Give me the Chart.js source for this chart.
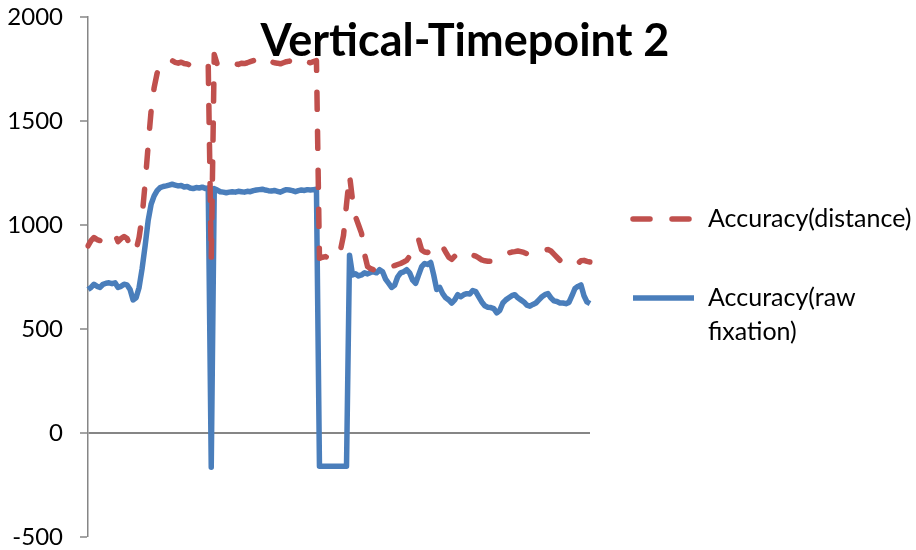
<!DOCTYPE html>
<html><head><meta charset="utf-8">
<script src="https://cdn.jsdelivr.net/npm/chart.js@4.4.0/dist/chart.umd.min.js"></script>
<style>html,body{margin:0;padding:0;background:#fff;} #wrap{width:916px;height:550px;position:relative;}</style>
</head><body><div id="wrap"><canvas id="c" width="916" height="550"></canvas></div>
<script>
const chartTitle = 'Vertical-Timepoint 2';
const seriesNames = ['Accuracy(distance)', 'Accuracy(raw fixation)'];
const legendLines = [['Accuracy(distance)'], ['Accuracy(raw', 'fixation)']];
const yMin = -500, yMax = 2000, yStep = 500;

const distance = [
  900, 925, 940, 930, 925, 935, 945, 955, 960, 955,
  920, 935, 945, 935, 900, 870, 880, 940, 1040, 1200,
  1380, 1550, 1660, 1730, 1770, 1778, 1782, 1788, 1790, 1782,
  1778, 1783, 1776, 1774, 1768, 1762, 1765, 1760, 1765, 1770,
  1768, 835, 1820, 1772, 1765, 1768, 1770, 1766, 1770, 1775,
  1772, 1778, 1776, 1780, 1785, 1790, 1795, 1805, 1810, 1800,
  1792, 1785, 1780, 1778, 1775, 1780, 1785, 1788, 1782, 1778,
  1785, 1795, 1790, 1783, 1780, 1785, 1790, 840, 845, 848,
  842, 840, 843, 845, 880, 950, 1100, 1240, 1120, 1040,
  1000, 960, 860, 800, 790, 785, 790, 788, 795, 790,
  795, 800, 805, 810, 815, 822, 830, 850, 880, 920,
  930, 880, 870, 868, 880, 895, 905, 910, 895, 870,
  845, 835, 850, 865, 872, 870, 862, 858, 855, 850,
  842, 832, 828, 826, 826, 830, 838, 845, 852, 860,
  866, 870, 872, 875, 872, 868, 862, 858, 856, 860,
  866, 872, 878, 882, 875, 860, 845, 830, 818, 810,
  806, 805, 808, 815, 828, 830, 825, 822
];
const rawFixation = [
  690, 700, 715, 705, 700, 715, 720, 722, 718, 722,
  700, 705, 715, 712, 690, 640, 650, 700, 790, 900,
  1020, 1100, 1140, 1165, 1180, 1185, 1188, 1192, 1196, 1192,
  1188, 1190, 1183, 1185, 1178, 1175, 1180, 1178, 1182, 1176,
  1178, -165, 1175, 1168, 1160, 1158, 1155, 1158, 1160, 1158,
  1162, 1160, 1158, 1162, 1160, 1165, 1168, 1170, 1172, 1168,
  1165, 1163, 1166, 1162, 1158, 1165, 1170, 1168, 1165, 1160,
  1165, 1168, 1166, 1170, 1168, 1170, 1172, -160, -160, -160,
  -160, -160, -160, -160, -160, -160, -160, 855, 760, 765,
  755, 760, 770, 765, 772, 775, 770, 785, 775, 740,
  720, 700, 710, 750, 770, 775, 785, 770, 735, 720,
  760, 800, 815, 810, 820, 760, 690, 700, 670, 650,
  640, 625, 640, 665, 655, 665, 670, 668, 685, 680,
  655, 630, 612, 605, 603, 598, 578, 590, 625, 640,
  650, 660, 665, 650, 640, 630, 615, 610, 618, 625,
  640, 655, 665, 670, 650, 635, 632, 625, 625, 622,
  628, 660, 695, 705, 712, 660, 630, 622
];
const samples = distance.map((_, i) => i + 1);

const RED = '#C0504D';
const BLUE = '#4A7EBB';
const AXIS = '#868686';
const FONT = 'Lato';
const DASH = [17, 22];

const overlay = {
  id: 'overlay',
  afterDraw(chart) {
    const ctx = chart.ctx;
    ctx.save();
    ctx.fillStyle = '#000';
    ctx.font = 'bold 45px ' + FONT;
    ctx.textAlign = 'center';
    ctx.textBaseline = 'alphabetic';
    ctx.fillText(chartTitle, 465, 56);

    const rows = [
      {color: RED, dash: DASH, y: 219, lines: legendLines[0]},
      {color: BLUE, dash: [], y: 298, lines: legendLines[1]}
    ];
    ctx.font = '25px ' + FONT;
    ctx.textAlign = 'left';
    ctx.textBaseline = 'middle';
    rows.forEach(r => {
      ctx.beginPath();
      ctx.strokeStyle = r.color;
      ctx.lineWidth = 5.5;
      ctx.lineCap = r.dash.length ? 'round' : 'butt';
      ctx.setLineDash(r.dash);
      ctx.moveTo(633, r.y);
      ctx.lineTo(694, r.y);
      ctx.stroke();
      ctx.setLineDash([]);
      r.lines.forEach((t, k) => ctx.fillText(t, 708, r.y + k * 34));
    });
    ctx.restore();
  }
};

new Chart(document.getElementById('c'), {
  type: 'line',
  data: {
    labels: samples,
    datasets: [
      {label: seriesNames[0], data: distance, borderColor: RED, borderWidth: 5.5,
       borderDash: DASH, borderCapStyle: 'round', borderJoinStyle: 'round',
       pointRadius: 0, tension: 0, fill: false},
      {label: seriesNames[1], data: rawFixation, borderColor: BLUE, borderWidth: 5.5,
       borderJoinStyle: 'round', pointRadius: 0, tension: 0, fill: false}
    ]
  },
  options: {
    responsive: false,
    animation: false,
    layout: {padding: {left: 0, right: 326, top: 17, bottom: 13}},
    plugins: {legend: {display: false}, title: {display: false}, tooltip: {enabled: false}},
    scales: {
      x: {type: 'category', display: false, offset: false},
      y: {
        min: yMin, max: yMax,
        afterFit(scale) { scale.width = 88; scale.paddingTop = 0; scale.paddingBottom = 0; },
        border: {display: true, color: AXIS, width: 1.5},
        grid: {
          drawOnChartArea: true, drawTicks: true, tickLength: 8,
          color: c => (c.tick && c.tick.value === 0) ? AXIS : 'rgba(0,0,0,0)',
          lineWidth: c => (c.tick && c.tick.value === 0) ? 2 : 0,
          tickColor: AXIS, tickWidth: 1.5
        },
        ticks: {stepSize: yStep, color: '#000', padding: 17, font: {family: FONT, size: 24},
                callback: v => String(v)}
      }
    }
  },
  plugins: [overlay]
});
</script>
</body></html>
